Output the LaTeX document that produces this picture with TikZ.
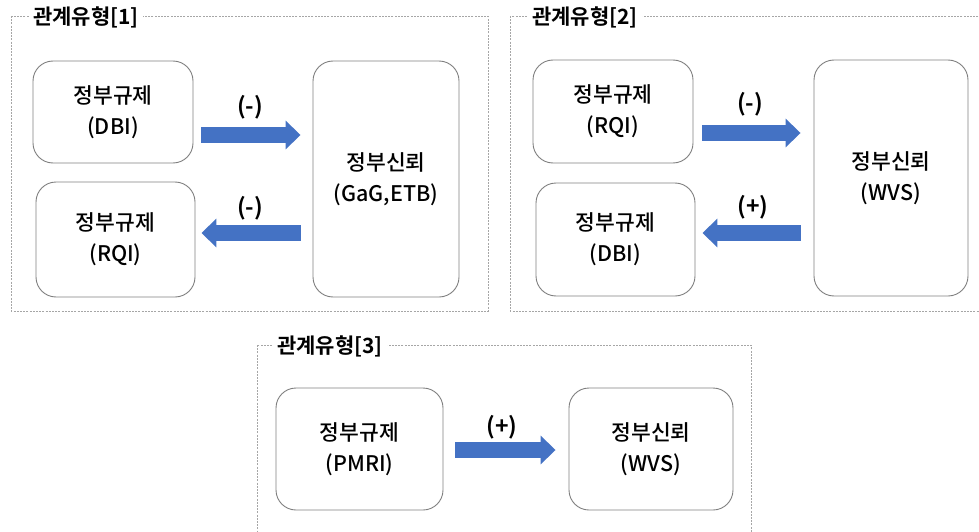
\documentclass[tikz,border=0pt]{standalone}
\usepackage{fontspec}
\setmainfont{Noto Sans CJK KR Medium}
\newfontfamily\krbold{Noto Sans CJK KR Bold}
\usetikzlibrary{arrows.meta}
\definecolor{arrowblue}{HTML}{4472C4}
\definecolor{boxgray}{HTML}{7F7F7F}
\definecolor{framegray}{HTML}{A6A6A6}
\tikzset{
  frame/.style={draw=framegray, line width=0.8pt, dash pattern=on 2pt off 1.2pt},
  title/.style={fill=white, inner xsep=4pt, inner ysep=1pt, font=\krbold\fontsize{21}{22}\selectfont},
  rbox/.style={draw=boxgray, line width=0.9pt, rounded corners=20pt, align=center, inner sep=0pt,
    font=\fontsize{21.5}{31}\selectfont},
  blockarrow/.style={draw=arrowblue, line width=16pt, -{Triangle[length=15pt,width=28pt]}},
  sign/.style={font=\krbold\fontsize{23}{24}\selectfont, inner sep=1pt}
}
\begin{document}
\begin{tikzpicture}[x=1pt,y=-1pt]
\useasboundingbox (0,0) rectangle (979,532);
\clip (0,0) rectangle (979,532);
% frames
\draw[frame] (11,16) rectangle (488,311);
\draw[frame] (510,16) rectangle (990,311);
\draw[frame] (257,345) rectangle (751,545);
\node[title] (t1) at (86,17) {관계유형[1]};
\node[title] (t2) at (585,17) {관계유형[2]};
\node[title] (t3) at (330,346) {관계유형[3]};
% type 1
\node[rbox, minimum width=160pt, minimum height=102pt] (dbi1) at (113,112) {정부규제\\(DBI)};
\node[rbox, minimum width=159pt, minimum height=115pt] (rqi1) at (115.5,239.5) {정부규제\\(RQI)};
\node[rbox, minimum width=146pt, minimum height=236pt] (gag1) at (386,179) {정부신뢰\\(GaG,ETB)};
\draw[blockarrow] ([xshift=8pt]dbi1.east |- 0,135) -- ([xshift=-12pt]gag1.west |- 0,135);
\draw[blockarrow] ([xshift=-12pt]gag1.west |- 0,233) -- ([xshift=6pt]rqi1.east |- 0,233);
\node[sign] (s1a) at (250,107) {(-)};
\node[sign] (s1b) at (250,208) {(-)};
% type 2
\node[rbox, minimum width=160pt, minimum height=103pt] (rqi2) at (613,111.5) {정부규제\\(RQI)};
\node[rbox, minimum width=159pt, minimum height=113pt] (dbi2) at (615.5,239.5) {정부규제\\(DBI)};
\node[rbox, minimum width=154pt, minimum height=236pt] (wvs2) at (891,178) {정부신뢰\\(WVS)};
\draw[blockarrow] ([xshift=9pt]rqi2.east |- 0,133) -- ([xshift=-13pt]wvs2.west |- 0,133);
\draw[blockarrow] ([xshift=-13pt]wvs2.west |- 0,233) -- ([xshift=7pt]dbi2.east |- 0,233);
\node[sign] (s2a) at (750,104) {(-)};
\node[sign] (s2b) at (753,207) {(+)};
% type 3
\node[rbox, minimum width=167pt, minimum height=122pt] (pmri3) at (359.5,449) {정부규제\\(PMRI)};
\node[rbox, minimum width=164pt, minimum height=122pt] (wvs3) at (651,449) {정부신뢰\\(WVS)};
\draw[blockarrow] ([xshift=12pt]pmri3.east |- 0,450) -- ([xshift=-13pt]wvs3.west |- 0,450);
\node[sign] (s3) at (502,427) {(+)};
\end{tikzpicture}
\end{document}
